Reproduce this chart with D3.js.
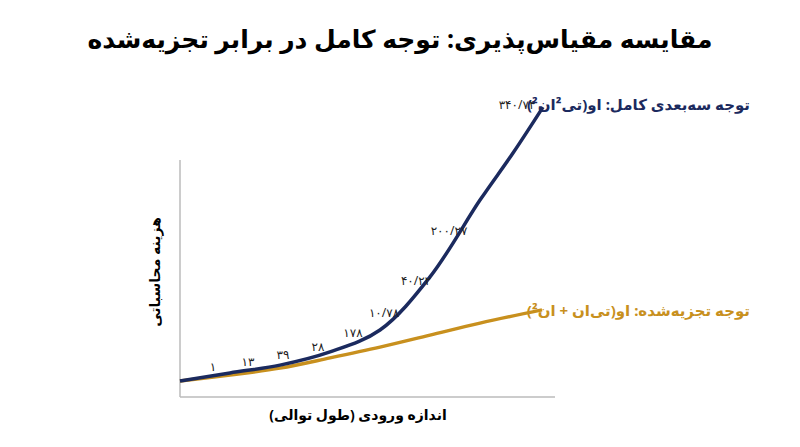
<!DOCTYPE html><html><head><meta charset="utf-8"><script src="https://cdn.jsdelivr.net/npm/d3@7"></script>
<style>body{margin:0;background:#fff}text{font-family:"Noto Sans","DejaVu Sans",sans-serif}</style></head><body><svg id="c" width="800" height="447"></svg><script>
const fullX=[0,50,100,150,200,250,300,333,363];
const fullV=[0,2.7,5.3,9.7,17,34.7,60.3,76,91.3];
const decompX=[0,50,100,150,200,250,300,362];
const decomp=[0,2,4.3,7.7,11.3,15.3,19.3,23.7];
const labelX=[33,68,103,138,173,204,236,269,337];
const labelY=[3.3,5,7.3,10,14.7,21.3,32,48.7,90.7];
const labelTxt=["۱","۱۳","۳۹","۲۸","۱۷۸","۱۰/۷۸","۴۰/۲۲","۲۰۰/۲۷","۳۴۰/۷۴"];
const svg=d3.select("#c");
const x=d3.scaleLinear().domain([0,375]).range([180,555]);
const y=d3.scaleLinear().domain([0,100]).range([381,81]);
svg.append("text").attr("x",400).attr("y",48).attr("text-anchor","middle").attr("font-size",25).attr("font-weight","bold").attr("direction","rtl").text("مقایسه مقیاس‌پذیری: توجه کامل در برابر تجزیه‌شده");
svg.append("line").attr("x1",180).attr("x2",180).attr("y1",160).attr("y2",397).attr("stroke","#bbb").attr("stroke-width",1.5);
svg.append("line").attr("x1",180).attr("x2",555).attr("y1",397).attr("y2",397).attr("stroke","#bbb").attr("stroke-width",1.5);
const line=d3.line().x(d=>x(d[0])).y(d=>y(d[1])).curve(d3.curveCatmullRom);
svg.append("path").attr("d",line(decompX.map((v,i)=>[v,decomp[i]]))).attr("fill","none").attr("stroke","#c8901e").attr("stroke-width",3.5);
svg.append("path").attr("d",line(fullX.map((v,i)=>[v,fullV[i]]))).attr("fill","none").attr("stroke","#1b2a5e").attr("stroke-width",3.5);
svg.selectAll(".lb").data(labelTxt).enter().append("text").attr("x",(d,i)=>x(labelX[i])).attr("y",(d,i)=>y(labelY[i])).attr("text-anchor","middle").attr("font-size",12).attr("fill","#222").text(d=>d);
svg.append("text").attr("x",750).attr("y",110).attr("text-anchor","start").attr("direction","rtl").attr("font-size",15).attr("font-weight","bold").attr("fill","#1b2a5e").text("توجه سه‌بعدی کامل: او(تی²ان²)");
svg.append("text").attr("x",750).attr("y",316).attr("text-anchor","start").attr("direction","rtl").attr("font-size",15).attr("font-weight","bold").attr("fill","#c8901e").text("توجه تجزیه‌شده: او(تی‌ان + ان²)");
svg.append("text").attr("x",358).attr("y",420).attr("text-anchor","middle").attr("direction","rtl").attr("font-size",14).attr("font-weight","bold").text("اندازه ورودی (طول توالی)");
svg.append("text").attr("transform","translate(160,272) rotate(-90)").attr("text-anchor","middle").attr("direction","rtl").attr("font-size",14).attr("font-weight","bold").text("هزینه محاسباتی");
</script></body></html>
